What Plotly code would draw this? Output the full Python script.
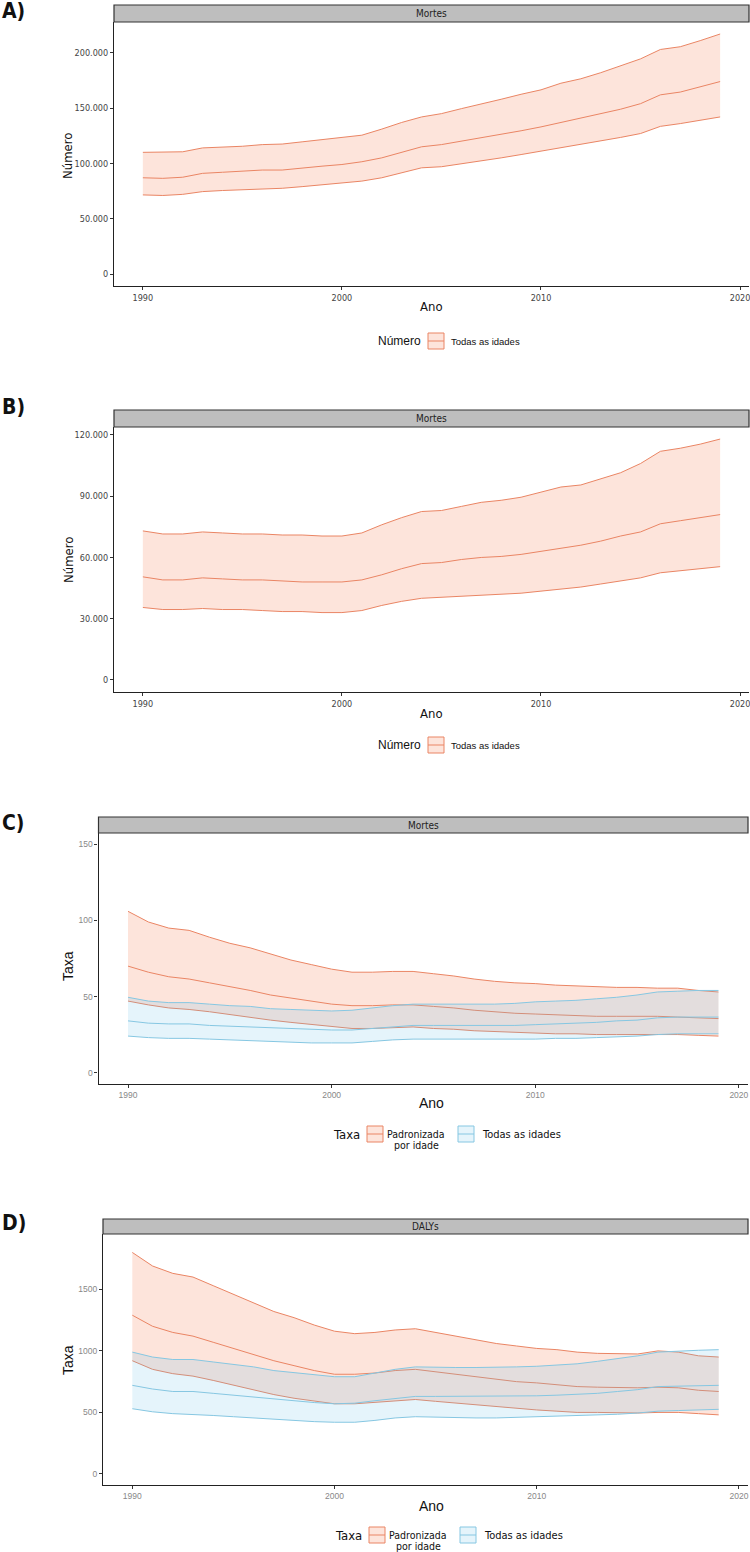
import plotly.graph_objects as go

W, H = 750, 1552
years = list(range(1990, 2020))

# Panel A - Mortes, Número (Todas as idades)
a_upper = [110000, 110000, 110500, 114000, 114500, 115500, 117000, 117500, 119500, 121500,
           123000, 125500, 131000, 137000, 142000, 145000, 149500, 153500, 158000, 162500,
           166500, 172500, 176500, 182000, 188000, 194500, 203000, 205500, 211000, 217000]
a_mid = [87000, 86500, 87500, 91000, 92000, 93000, 94000, 94000, 96000, 97500,
         99000, 101500, 105000, 110000, 115000, 117000, 120000, 123000, 126000, 129500,
         133000, 137000, 140500, 144500, 149000, 154000, 162000, 164500, 169000, 174000]
a_lower = [71500, 71000, 72000, 74500, 75500, 76000, 77000, 77500, 79000, 80500,
           82000, 84000, 87000, 91500, 96000, 97000, 99500, 102000, 105000, 108000,
           111000, 114000, 117000, 120500, 123500, 127000, 133500, 136000, 139000, 142000]

# Panel B - Mortes, Número (Todas as idades)
b_upper = [73000, 71500, 71500, 72500, 72000, 71500, 71500, 71000, 71000, 70500,
           70500, 72000, 76000, 79500, 82500, 83000, 85000, 87000, 88000, 89500,
           92000, 94500, 95500, 98500, 101500, 106000, 112000, 113500, 115500, 118000]
b_mid = [50500, 49000, 49000, 50000, 49500, 49000, 49000, 48500, 48000, 48000,
         48000, 49000, 51500, 54500, 57000, 57500, 59000, 60000, 60500, 61500,
         63000, 64500, 66000, 68000, 70500, 72500, 76500, 78000, 79500, 81000]
b_lower = [35500, 34500, 34500, 35000, 34500, 34500, 34000, 33500, 33500, 33000,
           33000, 34000, 36500, 38500, 40000, 40500, 41000, 41500, 42000, 42500,
           43500, 44500, 45500, 47000, 48500, 50000, 52500, 53500, 54500, 55500]

# Panel C - Mortes, Taxa
c_std_upper = [106, 99, 95, 93.5, 89, 85, 82, 78, 74, 71, 68, 66, 66, 66.5, 66.5,
               65, 63.5, 61.5, 60, 59, 58.5, 57.5, 57, 56.5, 56, 56, 55.5, 55.5, 54, 53]
c_std_mid = [70, 66, 63, 61.5, 59, 56.5, 54, 51, 49, 47, 45, 44, 44, 44.5, 44.5,
             43.5, 42.5, 41, 40, 39, 38.5, 38, 37.5, 37, 37, 37, 37, 36.5, 36, 35.5]
c_std_lower = [47, 44.5, 42.5, 41.5, 40, 38, 36.5, 34.5, 33, 31.5, 30, 29, 29, 29.5, 30,
               29, 28.5, 27.5, 27, 26.5, 26, 25.5, 25.5, 25, 25, 25, 25, 25, 24.5, 24]
c_all_upper = [49.5, 47, 46, 46, 45, 44, 43.5, 42, 41.5, 41, 40.5, 41, 42.5, 44, 45,
               45, 45, 45, 45, 45.5, 46.5, 47, 47.5, 48.5, 49.5, 51, 53, 53.5, 54, 54]
c_all_mid = [34, 32.5, 32, 32, 31, 30.5, 30, 29.5, 29, 28.5, 28, 28, 29, 30, 31,
             31, 31, 31, 31, 31, 31.5, 32, 32.5, 33, 34, 34.5, 36, 36.5, 36.5, 36.5]
c_all_lower = [24, 23, 22.5, 22.5, 22, 21.5, 21, 20.5, 20, 19.5, 19.5, 19.5, 20.5, 21.5, 22,
               22, 22, 22, 22, 22, 22, 22.5, 22.5, 23, 23.5, 24, 25, 25.5, 25.5, 25.5]

# Panel D - DALYs, Taxa
d_std_upper = [1800, 1690, 1630, 1600, 1530, 1460, 1390, 1320, 1270, 1210, 1160, 1140, 1150, 1170, 1180,
               1150, 1120, 1090, 1060, 1040, 1020, 1010, 990, 980, 975, 975, 1000, 990, 960, 950]
d_std_mid = [1290, 1200, 1150, 1120, 1070, 1020, 970, 920, 880, 840, 810, 810, 820, 840, 850,
             830, 810, 790, 770, 750, 740, 725, 710, 705, 700, 700, 705, 700, 680, 670]
d_std_lower = [920, 850, 815, 795, 760, 720, 685, 645, 615, 590, 570, 570, 580, 595, 605,
               590, 575, 560, 545, 530, 520, 510, 500, 500, 495, 495, 500, 500, 490, 480]
d_all_upper = [990, 950, 930, 930, 910, 890, 870, 840, 825, 810, 790, 790, 820, 850, 870,
               865, 865, 865, 865, 870, 875, 885, 895, 915, 935, 960, 990, 1000, 1005, 1010]
d_all_mid = [720, 690, 670, 670, 655, 640, 625, 605, 595, 580, 570, 575, 595, 615, 630,
             630, 630, 630, 630, 630, 635, 640, 645, 655, 670, 685, 710, 715, 720, 720]
d_all_lower = [530, 505, 490, 485, 475, 465, 455, 440, 435, 425, 420, 420, 435, 455, 465,
               460, 460, 455, 455, 460, 460, 465, 470, 475, 485, 495, 510, 515, 520, 525]

a_ticks = [0, 50000, 100000, 150000, 200000]
b_ticks = [0, 30000, 60000, 90000, 120000]
c_ticks = [0, 50, 100, 150]
d_ticks = [0, 500, 1000, 1500]
x_ticks = [1990, 2000, 2010, 2020]

RED_LINE = "#EA8564"
RED_FILL = "rgba(244,130,90,0.22)"
BLUE_LINE = "#86C7E2"
BLUE_FILL = "rgba(100,190,230,0.17)"

NARROW = "Liberation Sans Narrow, DejaVu Sans Condensed, sans-serif"
PLAIN = "Liberation Sans, Arial, sans-serif"


def fy(p):
    return 1 - p / H


def fx(p):
    return p / W


fig = go.Figure()


def ribbon(ax, lower, mid, upper, line, fill):
    xa, ya = "x" + ax, "y" + ax
    fig.add_trace(go.Scatter(x=years, y=lower, mode="lines", line=dict(color=line, width=1),
                             xaxis=xa, yaxis=ya, showlegend=False, hoverinfo="skip"))
    fig.add_trace(go.Scatter(x=years, y=upper, mode="lines", line=dict(color=line, width=1),
                             fill="tonexty", fillcolor=fill,
                             xaxis=xa, yaxis=ya, showlegend=False, hoverinfo="skip"))
    fig.add_trace(go.Scatter(x=years, y=mid, mode="lines", line=dict(color=line, width=1),
                             xaxis=xa, yaxis=ya, showlegend=False, hoverinfo="skip"))


ribbon("", a_lower, a_mid, a_upper, RED_LINE, RED_FILL)
ribbon("2", b_lower, b_mid, b_upper, RED_LINE, RED_FILL)
ribbon("3", c_std_lower, c_std_mid, c_std_upper, RED_LINE, RED_FILL)
ribbon("3", c_all_lower, c_all_mid, c_all_upper, BLUE_LINE, BLUE_FILL)
ribbon("4", d_std_lower, d_std_mid, d_std_upper, RED_LINE, RED_FILL)
ribbon("4", d_all_lower, d_all_mid, d_all_upper, BLUE_LINE, BLUE_FILL)

panels = [
    dict(s="", l=114, r=749, t=22, b=286, yr=[-10850, 227850], yt=a_ticks, fmt=",d",
         tc="#444", tf=NARROW, tfs=9, st=5, lab="A)", ly=11, strip="Mortes",
         ytitle="Número", yty=156, xty=307, tfont=NARROW, tsize=13),
    dict(s="2", l=114, r=749, t=427, b=692, yr=[-5900, 123900], yt=b_ticks, fmt=",d",
         tc="#444", tf=NARROW, tfs=9, st=410, lab="B)", ly=407, strip="Mortes",
         ytitle="Número", yty=560, xty=714, tfont=NARROW, tsize=13),
    dict(s="3", l=98.5, r=748, t=833, b=1084, yr=[-7.5, 157.5], yt=c_ticks, fmt="d",
         tc="#888", tf=PLAIN, tfs=8.5, st=817, lab="C)", ly=823, strip="Mortes",
         ytitle="Taxa", yty=966, xty=1103, tfont=PLAIN, tsize=14),
    dict(s="4", l=103, r=748, t=1234, b=1485, yr=[-90, 1950], yt=d_ticks, fmt="d",
         tc="#888", tf=PLAIN, tfs=8.5, st=1219, lab="D)", ly=1223, strip="DALYs",
         ytitle="Taxa", yty=1360, xty=1506, tfont=PLAIN, tsize=14),
]

layout = dict(width=W, height=H, margin=dict(l=0, r=0, t=0, b=0),
              paper_bgcolor="white", plot_bgcolor="white", separators=",.",
              showlegend=False)
shapes = []
annotations = []

for p in panels:
    s = p["s"]
    xk = "xaxis" + s
    yk = "yaxis" + s
    layout[xk] = dict(domain=[fx(p["l"]), fx(p["r"])], range=[1988.55, 2020.45],
                      anchor="y" + s, tickvals=x_ticks, ticks="outside", ticklen=3,
                      tickcolor="#333", showline=True, linecolor="#222", linewidth=1.2,
                      showgrid=False, zeroline=False, ticklabeloverflow="allow",
                      tickfont=dict(family=p["tf"], size=p["tfs"], color=p["tc"]))
    layout[yk] = dict(domain=[fy(p["b"]), fy(p["t"])], range=p["yr"],
                      anchor="x" + s, tickvals=p["yt"], tickformat=p["fmt"],
                      ticks="outside", ticklen=3, tickcolor="#333",
                      showline=True, linecolor="#222", linewidth=1.2,
                      showgrid=False, zeroline=False,
                      tickfont=dict(family=p["tf"], size=p["tfs"], color=p["tc"]))
    shapes.append(dict(type="rect", xref="paper", yref="paper",
                       x0=fx(p["l"]), x1=fx(p["r"]), y0=fy(p["t"]), y1=fy(p["st"]),
                       fillcolor="#BEBEBE", line=dict(color="#333", width=1.2)))
    annotations.append(dict(text=p["strip"], xref="paper", yref="paper",
                            x=fx((p["l"] + p["r"]) / 2), y=fy((p["st"] + p["t"]) / 2),
                            showarrow=False, xanchor="center", yanchor="middle",
                            font=dict(family=NARROW, size=10, color="#222")))
    annotations.append(dict(text="<b>" + p["lab"] + "</b>", xref="paper", yref="paper",
                            x=0, y=fy(p["ly"]), showarrow=False, xanchor="left",
                            yanchor="middle",
                            font=dict(family=NARROW, size=21, color="#111")))
    annotations.append(dict(text=p["ytitle"], xref="paper", yref="paper",
                            x=fx(68), y=fy(p["yty"]), showarrow=False, textangle=-90,
                            xanchor="center", yanchor="middle",
                            font=dict(family=p["tfont"], size=p["tsize"], color="#111")))
    annotations.append(dict(text="Ano", xref="paper", yref="paper",
                            x=fx(431), y=fy(p["xty"]), showarrow=False,
                            xanchor="center", yanchor="middle",
                            font=dict(family=p["tfont"], size=p["tsize"], color="#111")))


def legend_key(x0, y0, line, fill):
    shapes.append(dict(type="rect", xref="paper", yref="paper",
                       x0=fx(x0), x1=fx(x0 + 16), y0=fy(y0 + 16), y1=fy(y0),
                       fillcolor=fill, line=dict(color=line, width=1)))
    shapes.append(dict(type="line", xref="paper", yref="paper",
                       x0=fx(x0), x1=fx(x0 + 16), y0=fy(y0 + 8), y1=fy(y0 + 8),
                       line=dict(color=line, width=1)))


def text(t, x, y, size, family, anchor="left", color="#111"):
    annotations.append(dict(text=t, xref="paper", yref="paper", x=fx(x), y=fy(y),
                            showarrow=False, xanchor=anchor, yanchor="middle",
                            font=dict(family=family, size=size, color=color)))


for ly in (341, 745):
    text("Número", 423, ly, 12, PLAIN, anchor="right")
    legend_key(428, ly - 8, RED_LINE, RED_FILL)
    text("Todas as idades", 449, ly, 9.5, PLAIN)

for ly, dx in ((1134, 0), (1535, 2)):
    text("Taxa", 362 + dx, ly, 13, NARROW, anchor="right")
    legend_key(367 + dx, ly - 8, RED_LINE, RED_FILL)
    text("Padronizada", 416 + dx, ly, 10.5, NARROW, anchor="center")
    text("por idade", 416 + dx, ly + 11, 10.5, NARROW, anchor="center")
    legend_key(458 + dx, ly - 8, BLUE_LINE, BLUE_FILL)
    text("Todas as idades", 480 + dx, ly, 11, NARROW)

layout["shapes"] = shapes
layout["annotations"] = annotations
fig.update_layout(**layout)
fig.write_html("out.html", config={"displayModeBar": False},
               post_script="document.body.style.margin='0';document.body.style.padding='0';")
